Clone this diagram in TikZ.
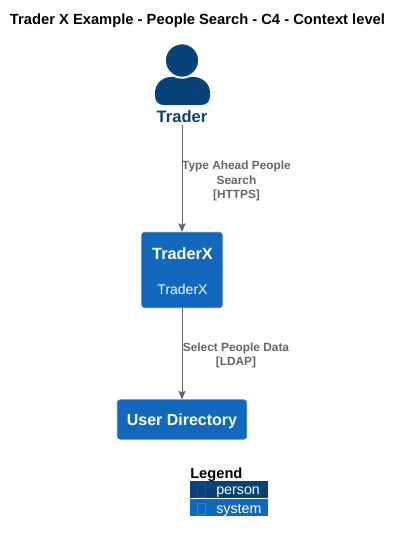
\documentclass[tikz,border=0pt]{standalone}
\usepackage{fontspec}
\setmainfont{Liberation Sans}
\usetikzlibrary{positioning,calc,arrows.meta}
\definecolor{persondark}{HTML}{08427B}
\definecolor{systemblue}{HTML}{1168BD}
\definecolor{systemedge}{HTML}{3C7FC0}
\definecolor{relgray}{HTML}{666666}
\tikzset{>=Stealth,
  sysbox/.style={draw=systemedge,fill=systemblue,rounded corners=2.2pt,line width=.6pt,inner sep=0pt,text=white},
  rellabel/.style={text=relgray,font=\fontsize{8.9}{10.8}\selectfont\bfseries,align=center,inner sep=0pt},
  rel/.style={draw=relgray,line width=.75pt,-{Stealth[length=6.5pt,width=5.4pt,inset=1.2pt]}},
  legendrow/.style={minimum width=58.5pt,minimum height=13.3pt,inner sep=0pt,text=white},
  legendtext/.style={anchor=west,inner sep=0pt,text=white,font=\fontsize{10.7}{12}\selectfont},
  glyphbox/.style={draw,line width=.4pt,minimum width=6pt,inner sep=0pt}
}
\begin{document}
\begin{tikzpicture}[x=.75pt,y=-.75pt]
\useasboundingbox (0,0) rectangle (402,542);
\node[font=\fontsize{11.05}{13}\selectfont\bfseries,inner sep=0pt] (title) at (197.5,21) {Trader X Example - People Search - C4 - Context level};
% person icon
\fill[persondark] (155,96) -- (155,93) .. controls (155,84) and (162,77) .. (171,77)
  -- (193,77) .. controls (203,77) and (210,84) .. (210,93) -- (210,96)
  .. controls (210,102) and (206,105) .. (201,105) -- (164,105) .. controls (159,105) and (155,102) .. (155,96) -- cycle;
\fill[persondark,draw=white,line width=1.5pt] (182,60.5) circle[radius=17.2];
\node[text=persondark,font=\fontsize{12.4}{14}\selectfont\bfseries,inner sep=0pt] (trader) at (182,116.5) {Trader};
% boxes
\node[sysbox,minimum width=60.5pt,minimum height=56.5pt] (traderx) at (182,270) {};
\node[text=white,font=\fontsize{12.2}{14}\selectfont\bfseries,inner sep=0pt] (traderxname) at (182.5,253.5) {TraderX};
\node[text=white,font=\fontsize{10.5}{12}\selectfont,inner sep=0pt] (traderxdesc) at (182.5,289) {TraderX};
\node[sysbox,minimum width=97pt,minimum height=29.5pt] (userdir) at (182,419.5) {};
\node[text=white,font=\fontsize{12}{14}\selectfont\bfseries,inner sep=0pt] (userdirname) at (182,421.5) {User Directory};
% relations
\coordinate (traderbot) at (182,124.5);
\draw[rel] (traderbot) -- (traderx.north);
\draw[rel] (traderx.south) -- (userdir.north);
\node[rellabel] (typeahead) at (236.5,181) {Type Ahead People\\Search\\{[HTTPS]}};
\node[rellabel] (selectdata) at (236,355.5) {Select People Data\\{[LDAP]}};
% legend
\node[font=\fontsize{11}{12}\selectfont\bfseries,anchor=west,inner sep=0pt] (legend) at (190,475) {Legend};
\node[legendrow,fill=persondark] (rowperson) at (229,489.5) {};
\node[legendrow,fill=systemblue] (rowsystem) at (229,507.5) {};
\node[legendtext] (lblperson) at (216,492.5) {person};
\node[legendtext] (lblsystem) at (216,510) {system};
\node[glyphbox,draw=persondark!92!white,minimum height=9.5pt] (glyphperson) at (201,490.5) {};
\node[glyphbox,draw=systemblue!85!white,minimum height=8.4pt] (glyphsystem) at (201,508.5) {};
\end{tikzpicture}
\end{document}
